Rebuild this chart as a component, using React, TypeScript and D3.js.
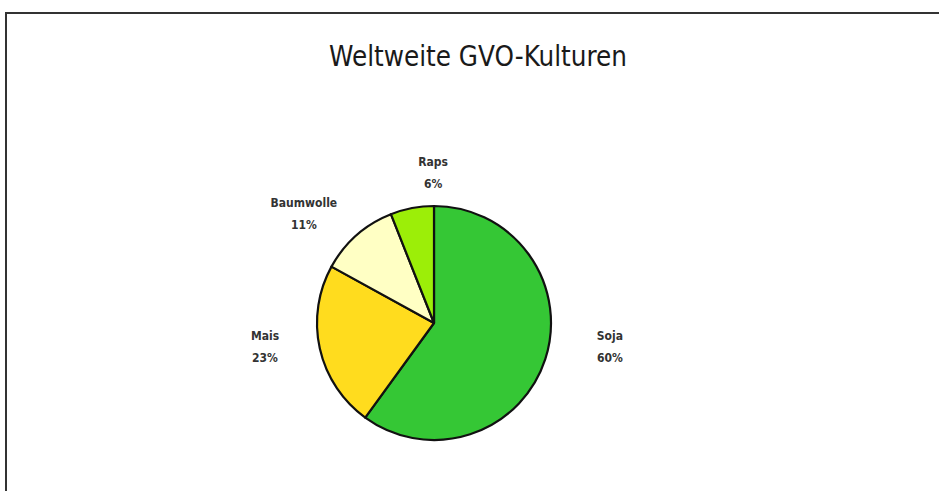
import React from "react";
import * as d3 from "d3";

const categories = ["Soja", "Mais", "Baumwolle", "Raps"];
const values = [60, 23, 11, 6];
const colors = ["#35c735", "#ffdc1e", "#ffffc4", "#9cee08"];
const title = "Weltweite GVO-Kulturen";
// layout tweaks for the outside-end labels (pixels, relative to centroid)
const labelNudge: [number, number][] = [
  [19, -28],
  [-8, -13],
  [-21, 14],
  [30, 11],
];

const W = 939;
const H = 491;
const cx = 434;
const cy = 323;
const R = 117;

export default function App() {
  const pie = d3
    .pie<number>()
    .sort(null)
    .startAngle(0)
    .endAngle(2 * Math.PI)(values);
  const arc = d3.arc<d3.PieArcDatum<number>>().innerRadius(0).outerRadius(R);
  const labelArc = d3
    .arc<d3.PieArcDatum<number>>()
    .innerRadius(165)
    .outerRadius(165);
  const font = "'DejaVu Sans Condensed', 'DejaVu Sans', sans-serif";
  return (
    <svg
      width={W}
      height={H}
      style={{ position: "absolute", left: 0, top: 0, background: "#fff" }}
    >
      <rect x={6} y={13} width={W + 20} height={H + 20} fill="#fff" stroke="#333" strokeWidth={2} />
      <text
        x={478}
        y={66}
        textAnchor="middle"
        fontFamily={font}
        fontSize={27.5}
        fill="#1a1a1a"
      >
        {title}
      </text>
      <g transform={`translate(${cx},${cy})`}>
        {pie.map((d, i) => (
          <path key={i} d={arc(d) || ""} fill={colors[i]} stroke="#111" strokeWidth={2.2} strokeLinejoin="round" />
        ))}
        {pie.map((d, i) => {
          const [x, y] = labelArc.centroid(d);
          const px = x + labelNudge[i][0];
          const py = y + labelNudge[i][1];
          return (
            <g key={"l" + i} fontFamily={font} fontSize={12} fontWeight="bold" fill="#333" textAnchor="middle">
              <text x={px} y={py - 6}>{categories[i]}</text>
              <text x={px} y={py + 16}>{`${values[i]}%`}</text>
            </g>
          );
        })}
      </g>
    </svg>
  );
}
